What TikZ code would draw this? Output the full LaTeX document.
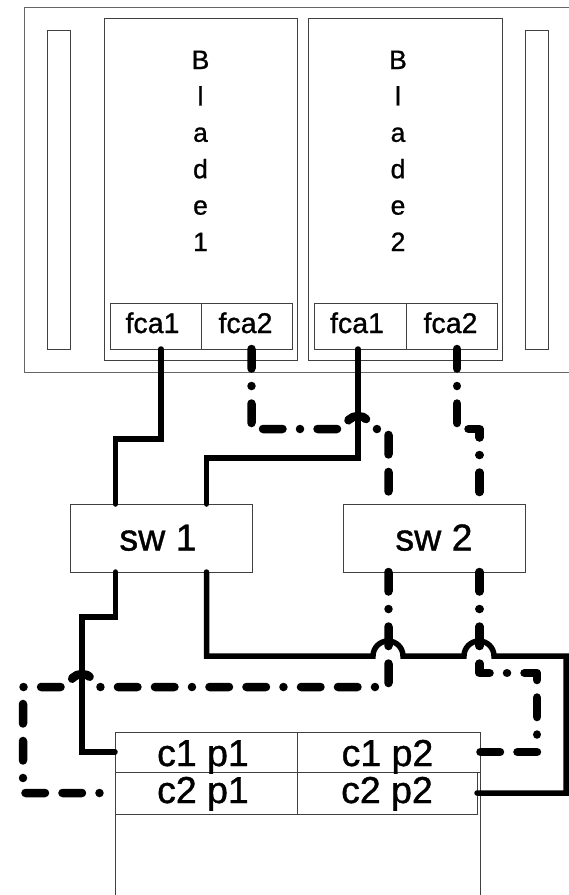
\documentclass[tikz,border=0pt]{standalone}
\usepackage{fontspec}
\setmainfont{Liberation Sans}
\newfontfamily\labelsans[FakeBold=1]{Liberation Sans}
\usetikzlibrary{calc}

\begin{document}
\begin{tikzpicture}[x=1pt,y=-1pt,
  box/.style={draw=black!75, line width=0.9pt, rectangle, inner sep=0pt, outer sep=0pt},
  chassisbox/.style={box, draw=black!60},
  bladetxt/.style={anchor=base, inner sep=0pt, font=\labelsans\fontsize{26.5}{28}\selectfont},
  fcalbl/.style={anchor=base, inner sep=0pt, font=\labelsans\fontsize{28.5}{30}\selectfont},
  swlbl/.style={anchor=base, inner sep=0pt, font=\labelsans\fontsize{37.5}{40}\selectfont},
  portlbl/.style={anchor=base, inner sep=0pt, font=\labelsans\fontsize{37.5}{40}\selectfont},
  fibre/.style={line width=5.5pt, line cap=round, line join=miter},
  fibrealt/.style={line width=8.5pt, line cap=round, line join=round,
    dash pattern=on 19.5pt off 17.5pt on 0.01pt off 17.5pt on 19.5pt off 17.5pt}]

\useasboundingbox (0,0) rectangle (569,895);
\clip (0,0) rectangle (569,895);

% chassis with its two side slots
\node[chassisbox, minimum width=576pt, minimum height=365pt] (chassis) at (312,189.5) {};
\node[box, minimum width=23pt, minimum height=319pt] (slotL) at (58.5,189.5) {};
\node[box, minimum width=23pt, minimum height=319pt] (slotR) at (536.5,189.5) {};

% blades
\node[box, minimum width=193pt, minimum height=342pt] (blade1) at (200.5,189) {};
\node[box, minimum width=194pt, minimum height=342pt] (blade2) at (405,189) {};

\foreach \ch [count=\k] in {B,l,a,d,e,1}
  \node[bladetxt] (b1t\k) at (200.5,{69+36.4*(\k-1)}) {\ch};
\foreach \ch [count=\k] in {B,l,a,d,e,2}
  \node[bladetxt] (b2t\k) at (398,{69+36.4*(\k-1)}) {\ch};

% fibre channel adapters
\node[box, minimum width=91pt, minimum height=46pt] (b1f1) at (155.5,326) {};
\node[box, minimum width=91pt, minimum height=46pt] (b1f2) at (246.5,326) {};
\node[box, minimum width=92pt, minimum height=46pt] (b2f1) at (360,326) {};
\node[box, minimum width=91pt, minimum height=46pt] (b2f2) at (451.5,326) {};
\node[fcalbl] (b1f1t) at ($(b1f1.center)+(-3,7)$) {fca1};
\node[fcalbl] (b1f2t) at ($(b1f2.center)+(-1,7)$) {fca2};
\node[fcalbl] (b2f1t) at ($(b2f1.center)+(-3,7)$) {fca1};
\node[fcalbl] (b2f2t) at ($(b2f2.center)+(-1,7)$) {fca2};

% switches
\node[box, minimum width=182pt, minimum height=68pt] (sw1) at (161,538) {};
\node[box, minimum width=182pt, minimum height=68pt] (sw2) at (434,538) {};
\node[swlbl] (sw1t) at ($(sw1.center)+(-3,12.5)$) {sw 1};
\node[swlbl] (sw2t) at ($(sw2.center)+(0,12.5)$) {sw 2};

% storage controller ports
\node[box, minimum width=365pt, minimum height=188pt] (store) at (297.5,826) {};
\node[box, minimum width=182pt, minimum height=40pt] (c11) at (206,752) {};
\node[box, minimum width=183pt, minimum height=40pt] (c12) at (388.5,752) {};
\node[box, minimum width=182pt, minimum height=42pt] (c21) at (206,793) {};
\node[box, minimum width=180pt, minimum height=42pt] (c22) at (387,793) {};
\node[portlbl] (c11t) at ($(c11.center)+(-3,14)$) {c1 p1};
\node[portlbl] (c12t) at ($(c12.center)+(-1,14)$) {c1 p2};
\node[portlbl] (c21t) at ($(c21.center)+(-3,10)$) {c2 p1};
\node[portlbl] (c22t) at ($(c22.center)+(0,10)$) {c2 p2};

% attachment points on the switches
\coordinate (sw1nw) at ($(sw1.north west)!0.25!(sw1.north east)$);
\coordinate (sw1ne) at ($(sw1.north west)!0.75!(sw1.north east)$);
\coordinate (sw1sw) at ($(sw1.south west)!0.25!(sw1.south east)$);
\coordinate (sw1se) at ($(sw1.south west)!0.75!(sw1.south east)$);
\coordinate (sw2nw) at ($(sw2.north west)!0.25!(sw2.north east)$);
\coordinate (sw2ne) at ($(sw2.north west)!0.75!(sw2.north east)$);
\coordinate (sw2sw) at ($(sw2.south west)!0.25!(sw2.south east)$);
\coordinate (sw2se) at ($(sw2.south west)!0.75!(sw2.south east)$);

% blade to switch links
\draw[fibre] ($(b1f1.south)+(5.5,0)$) -- ++(0,90) -| (sw1nw);
\draw[fibre] ($(b2f1.south)+(-2,0)$) -- ++(0,109) -| (sw1ne);
\draw[fibrealt] ($(b1f2.south)+(5,0)$) -- ++(0,80) -- (345,429)
  arc[start angle=180, end angle=360, radius=13] -| (sw2nw);
\draw[fibrealt] ($(b2f2.south)+(5.5,0)$) -- ++(0,80) -| (sw2ne);

% switch to storage links
\draw[fibre] (sw1sw) -- ++(0,45) -| (82,700) |- (c11.west);
\draw[fibre] (sw1se) -- ++(0,84) -- (373,656)
  arc[start angle=180, end angle=360, radius=15] -- (464,656)
  arc[start angle=180, end angle=360, radius=15] -- (566,656) |- (c22.east);
\draw[fibrealt] (sw2sw) -- ++(0,115) -- (95,687)
  arc[start angle=0, end angle=-180, radius=13] -- (23,687) |- (c21.west);
\draw[fibrealt] (sw2se) -- ++(0,101) -- (537,673) |- (c12.east);

\end{tikzpicture}
\end{document}
